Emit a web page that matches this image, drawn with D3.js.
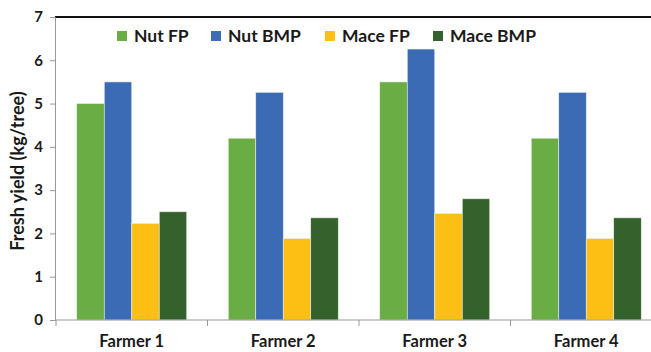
<!DOCTYPE html>
<html><head><meta charset="utf-8">
<script src="https://cdn.jsdelivr.net/npm/d3@7"></script>
<style>body{margin:0;background:#fff}svg{display:block}text{font-family:Lato,"Open Sans",sans-serif;font-weight:bold;fill:#1a1a1a}</style>
</head><body>
<script>
const categories = ["Farmer 1","Farmer 2","Farmer 3","Farmer 4"];
const seriesNames = ["Nut FP","Nut BMP","Mace FP","Mace BMP"];
const nutFP = [5.0, 4.2, 5.5, 4.2];
const nutBMP = [5.5, 5.26, 6.26, 5.26];
const maceFP = [2.23, 1.88, 2.46, 1.88];
const maceBMP = [2.5, 2.36, 2.8, 2.36];
const colors = ["#6AAD45","#3A6BB4","#FDBF14","#34612C"];
const yTicks = [0,1,2,3,4,5,6,7];
const series = [nutFP, nutBMP, maceFP, maceBMP];

const W = 651, H = 352;
const svg = d3.select("body").append("svg").attr("width",W).attr("height",H);
const x0 = d3.scaleBand().domain(categories).range([56, 662]).paddingInner(0).paddingOuter(0);
const x1 = d3.scaleBand().domain(seriesNames).range([0, x0.bandwidth()]).paddingInner(0).paddingOuter(0.755);
const y = d3.scaleLinear().domain([0,7]).range([320,17]);

// bars
categories.forEach((c,i)=>{
  const g = svg.append("g").attr("transform",`translate(${x0(c)},0)`);
  g.selectAll("rect").data(seriesNames.map((s,j)=>({s, v: series[j][i], col: colors[j]})))
   .join("rect")
   .attr("x",d=>x1(d.s)).attr("width",x1.bandwidth())
   .attr("y",d=>y(d.v)).attr("height",d=>y(0)-y(d.v))
   .attr("fill",d=>d.col).attr("stroke","#e8efe4").attr("stroke-width",0.6);
});

// top border
svg.append("line").attr("x1",55).attr("x2",W).attr("y1",17).attr("y2",17).attr("stroke","#111").attr("stroke-width",2);

// y axis
const yAx = svg.append("g").attr("transform","translate(55,0)")
  .call(d3.axisLeft(y).tickValues(yTicks).tickSize(5).tickPadding(7).tickFormat(d3.format("d")));
yAx.select(".domain").attr("stroke","#999");
yAx.selectAll(".tick line").attr("stroke","#999");
yAx.selectAll("text").style("font-size","15px").attr("fill","#1a1a1a");

// x axis
const xAx = svg.append("g").attr("transform","translate(0,320)")
  .call(d3.axisBottom(x0).tickSize(0).tickPadding(15));
xAx.select(".domain").attr("stroke","#999").attr("d","M55,0H"+W);
xAx.selectAll("text").style("font-size","16.5px").attr("fill","#1a1a1a");
// category boundary ticks
svg.append("g").selectAll("line").data(categories).join("line")
  .attr("x1",d=>x0(d)).attr("x2",d=>x0(d)).attr("y1",320).attr("y2",326).attr("stroke","#999");

// y title
svg.append("text").attr("transform","translate(24,171) rotate(-90)").attr("text-anchor","middle")
  .style("font-size","18px").text("Fresh yield (kg/tree)");

// legend
const legX = [117, 211, 325, 433];
const leg = svg.append("g");
seriesNames.forEach((s,j)=>{
  leg.append("rect").attr("x",legX[j]).attr("y",31).attr("width",10).attr("height",10).attr("fill",colors[j]);
  leg.append("text").attr("x",legX[j]+17).attr("y",42).style("font-size","17.5px").text(s);
});
</script>
</body></html>
